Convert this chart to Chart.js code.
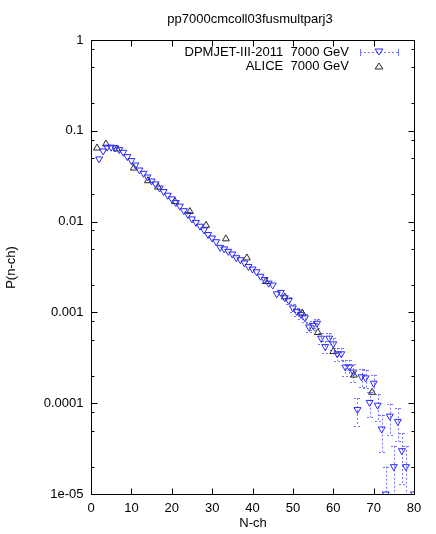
<!DOCTYPE html>
<html>
<head>
<meta charset="utf-8">
<title>pp7000cmcoll03fusmultparj3</title>
<script src="https://cdn.jsdelivr.net/npm/chart.js@4/dist/chart.umd.min.js"></script>
<style>
  html, body { margin: 0; padding: 0; background: #ffffff; }
  canvas { display: block; }
</style>
</head>
<body>
<canvas id="chart" width="436" height="534"></canvas>
<script>
//Chart data
var dpmN = [2, 3, 4, 5, 6, 7, 8, 9, 10, 11, 12, 13, 14, 15, 16, 17, 18, 19, 20, 21,
            22, 23, 24, 25, 26, 27, 28, 29, 30, 31, 32, 33, 34, 35, 36, 37, 38, 39, 40, 41,
            42, 43, 44, 45, 46, 47, 48, 49, 50, 51, 52, 53, 54, 55, 56, 57, 58, 59, 60, 61,
            62, 63, 64, 65, 66, 67, 68, 69, 70, 71, 72, 73, 74, 75, 76, 77, 78, 80];
var dpmP = [0.049, 0.060, 0.066, 0.066, 0.065, 0.062, 0.058, 0.052, 0.047, 0.042,
            0.037, 0.034, 0.031, 0.028, 0.026, 0.0234, 0.0214, 0.0195, 0.0178, 0.0162,
            0.0148, 0.0132, 0.0120, 0.0107, 0.0098, 0.0089, 0.0081, 0.0072, 0.0066, 0.0060,
            0.0052, 0.0050, 0.0047, 0.0044, 0.0040, 0.0038, 0.0035, 0.0032, 0.0030, 0.0028,
            0.0025, 0.0023, 0.0021, 0.0020, 0.0016, 0.00166, 0.00145, 0.00135, 0.00112, 0.00102,
            0.00095, 0.00087, 0.00069, 0.00072, 0.00076, 0.00052, 0.00042, 0.00052, 0.00045, 0.00035,
            0.00035, 0.00025, 0.00025, 0.00022, 0.000085, 0.000195, 0.00019, 0.000102, 0.000166, 0.000095,
            0.000052, 0.00001, 0.000072, 0.00002, 0.000063, 0.00003, 0.00002, 0.00001];
var dpmErr = [7e-4, 7.7e-4, 8.1e-4, 8.1e-4, 8.1e-4, 7.9e-4, 7.6e-4, 7.2e-4, 6.8e-4, 6.5e-4,
              6.1e-4, 5.8e-4, 5.6e-4, 5.3e-4, 5.1e-4, 4.8e-4, 4.6e-4, 4.4e-4, 4.2e-4, 4.0e-4,
              3.8e-4, 3.6e-4, 3.5e-4, 3.3e-4, 3.1e-4, 3.0e-4, 2.8e-4, 2.7e-4, 2.6e-4, 2.4e-4,
              2.3e-4, 2.2e-4, 2.2e-4, 2.1e-4, 2.0e-4, 1.9e-4, 1.9e-4, 1.8e-4, 1.7e-4, 1.7e-4,
              1.6e-4, 1.5e-4, 1.4e-4, 1.4e-4, 1.3e-4, 1.3e-4, 1.2e-4, 1.2e-4, 1.1e-4, 1.0e-4,
              1.0e-4, 9e-5, 8e-5, 8.5e-5, 8.7e-5, 7.2e-5, 6.5e-5, 7.2e-5, 6.7e-5, 5.9e-5,
              5.9e-5, 5e-5, 5e-5, 4.7e-5, 2.9e-5, 4.4e-5, 4.4e-5, 3.2e-5, 4.1e-5, 3.1e-5,
              2.3e-5, 1e-5, 2.7e-5, 1.4e-5, 2.5e-5, 1.7e-5, 1.4e-5, 1e-5];

var aliceN = [1.5, 3.7, 6.4, 10.6, 14.1, 16.6, 20.8, 24.5, 28.5, 33.4, 38.6, 43.3, 48, 52.3, 56.2, 60, 65.1, 69.6];
var aliceP = [0.0646, 0.0716, 0.0631, 0.0389, 0.0282, 0.0240, 0.0166, 0.0129, 0.0091, 0.00646,
              0.00398, 0.00219, 0.00148, 0.00098, 0.00060, 0.00037, 0.000204, 0.000132];

var xTickValues = [0, 10, 20, 30, 40, 50, 60, 70, 80];
var yTickValues = [1, 0.1, 0.01, 0.001, 0.0001, 0.00001];
var yTickLabels = ["1", "0.1", "0.01", "0.001", "0.0001", "1e-05"];
var yMinorFactors = [2, 5, 8];

var chartTitle = "pp7000cmcoll03fusmultparj3";
var xTitle = "N-ch";
var yTitle = "P(n-ch)";
var seriesNames = ["DPMJET-III-2011  7000 GeV", "ALICE  7000 GeV"];

var blue = "rgb(40,40,255)";
var barBlue = "rgb(120,120,255)";
var grey = "rgb(40,40,40)";
var font = "13px 'Liberation Sans', Arial, sans-serif";

//Build the point lists for chart.js
function toPoints(xs, ys) {
    var pts = [];
    for (var i = 0; i < xs.length; i++) {
        pts.push({ x: xs[i], y: ys[i] });
    }
    return pts;
}

//Dashed vertical error bars for the DPMJET points
var errorBarPlugin = {
    id: 'errorBars',
    beforeDatasetsDraw: function (chart) {
        var ctx = chart.ctx;
        var xs = chart.scales.x, ys = chart.scales.y;
        var area = chart.chartArea;
        ctx.save();
        ctx.beginPath();
        ctx.rect(area.left, area.top, area.right - area.left, area.bottom - area.top);
        ctx.clip();
        ctx.strokeStyle = barBlue;
        ctx.lineWidth = 1;
        ctx.setLineDash([2, 2]);
        for (var i = 0; i < dpmN.length; i++) {
            var px = Math.round(xs.getPixelForValue(dpmN[i])) + 0.5;
            var hi = ys.getPixelForValue(dpmP[i] + dpmErr[i]);
            var lowVal = dpmP[i] - dpmErr[i];
            var lo = lowVal > 0 ? ys.getPixelForValue(lowVal) : area.bottom + 5;
            if (lo - hi < 7) continue; //hidden under the marker
            ctx.beginPath();
            ctx.moveTo(px, hi);
            ctx.lineTo(px, lo);
            ctx.moveTo(px - 3.5, Math.round(hi) + 0.5);
            ctx.lineTo(px + 3.5, Math.round(hi) + 0.5);
            ctx.moveTo(px - 3.5, Math.round(lo) + 0.5);
            ctx.lineTo(px + 3.5, Math.round(lo) + 0.5);
            ctx.stroke();
        }
        ctx.restore();
    }
};

//small outlined triangle for the key
function drawTri(ctx, x, y, down) {
    var r = 4;
    var h = r * 1.5;
    ctx.beginPath();
    if (down) {
        ctx.moveTo(x - r * 0.866 - 0.5, y - h / 2);
        ctx.lineTo(x + r * 0.866 + 0.5, y - h / 2);
        ctx.lineTo(x, y + h / 2);
    } else {
        ctx.moveTo(x - r * 0.866 - 0.5, y + h / 2);
        ctx.lineTo(x + r * 0.866 + 0.5, y + h / 2);
        ctx.lineTo(x, y - h / 2);
    }
    ctx.closePath();
    ctx.stroke();
}

//Frame, ticks, labels, title and key drawn in gnuplot style
var framePlugin = {
    id: 'frame',
    afterDraw: function (chart) {
        var ctx = chart.ctx;
        var xs = chart.scales.x, ys = chart.scales.y;
        var a = chart.chartArea;
        var L = Math.round(a.left) + 0.5, R = Math.round(a.right) + 0.5;
        var T = Math.round(a.top) + 0.5, B = Math.round(a.bottom) + 0.5;
        ctx.save();
        ctx.strokeStyle = "#000";
        ctx.lineWidth = 1;
        ctx.setLineDash([]);
        ctx.strokeRect(L, T, R - L, B - T);

        ctx.beginPath();
        //x ticks, bottom and top
        for (var i = 0; i < xTickValues.length; i++) {
            var px = Math.round(xs.getPixelForValue(xTickValues[i])) + 0.5;
            ctx.moveTo(px, B); ctx.lineTo(px, B - 6);
            ctx.moveTo(px, T); ctx.lineTo(px, T + 6);
        }
        //y ticks, left and right, with minor ones
        for (var j = 0; j < yTickValues.length; j++) {
            var py = Math.round(ys.getPixelForValue(yTickValues[j])) + 0.5;
            ctx.moveTo(L, py); ctx.lineTo(L + 6, py);
            ctx.moveTo(R, py); ctx.lineTo(R - 6, py);
            if (j > 0) {
                for (var k = 0; k < yMinorFactors.length; k++) {
                    var my = Math.round(ys.getPixelForValue(yTickValues[j] * yMinorFactors[k])) + 0.5;
                    ctx.moveTo(L, my); ctx.lineTo(L + 3, my);
                    ctx.moveTo(R, my); ctx.lineTo(R - 3, my);
                }
            }
        }
        ctx.stroke();

        ctx.fillStyle = "#000";
        ctx.font = font;
        ctx.textBaseline = "middle";
        ctx.textAlign = "center";
        for (var i2 = 0; i2 < xTickValues.length; i2++) {
            ctx.fillText(String(xTickValues[i2]), xs.getPixelForValue(xTickValues[i2]), B + 14);
        }
        ctx.textAlign = "right";
        for (var j2 = 0; j2 < yTickValues.length; j2++) {
            ctx.fillText(yTickLabels[j2], L - 8, ys.getPixelForValue(yTickValues[j2]));
        }

        //titles
        ctx.textAlign = "center";
        ctx.fillText(chartTitle, (L + R) / 2 - 3, 19);
        ctx.fillText(xTitle, (L + R) / 2, 523);
        ctx.save();
        ctx.translate(11, (T + B) / 2);
        ctx.rotate(-Math.PI / 2);
        ctx.fillText(yTitle, 0, 0);
        ctx.restore();

        //key
        var keyTextX = 349, sampleL = 360, sampleR = 398, sampleC = 379;
        var row1 = 52, row2 = 66;
        ctx.textAlign = "right";
        ctx.fillText(seriesNames[0], keyTextX, row1);
        ctx.fillText(seriesNames[1], keyTextX, row2);

        ctx.strokeStyle = barBlue;
        ctx.setLineDash([2, 2]);
        ctx.beginPath();
        ctx.moveTo(sampleL, row1 + 0.5); ctx.lineTo(sampleR, row1 + 0.5);
        ctx.stroke();
        ctx.setLineDash([]);
        ctx.beginPath();
        ctx.moveTo(sampleL + 0.5, row1 - 3); ctx.lineTo(sampleL + 0.5, row1 + 4);
        ctx.moveTo(sampleR + 0.5, row1 - 3); ctx.lineTo(sampleR + 0.5, row1 + 4);
        ctx.stroke();

        ctx.lineWidth = 1;
        ctx.strokeStyle = blue;
        drawTri(ctx, sampleC, row1, true);
        ctx.strokeStyle = grey;
        drawTri(ctx, sampleC, row2, false);
        ctx.restore();
    }
};

var ctx = document.getElementById("chart").getContext("2d");
var chart = new Chart(ctx, {
    type: 'scatter',
    data: {
        datasets: [{
            label: seriesNames[0],
            data: toPoints(dpmN, dpmP),
            pointStyle: 'triangle',
            rotation: 180,
            pointRadius: 4,
            borderWidth: 1,
            borderColor: blue,
            backgroundColor: 'rgba(0,0,0,0)'
        }, {
            label: seriesNames[1],
            data: toPoints(aliceN, aliceP),
            pointStyle: 'triangle',
            pointRadius: 4,
            borderWidth: 1,
            borderColor: grey,
            backgroundColor: 'rgba(0,0,0,0)'
        }]
    },
    options: {
        responsive: false,
        animation: false,
        layout: { padding: { left: 91, right: 22, top: 40, bottom: 40 } },
        plugins: { legend: { display: false }, tooltip: { enabled: false } },
        scales: {
            x: { type: 'linear', min: 0, max: 80, display: false },
            y: { type: 'logarithmic', min: 0.00001, max: 1, display: false }
        }
    },
    plugins: [errorBarPlugin, framePlugin]
});
</script>
</body>
</html>
